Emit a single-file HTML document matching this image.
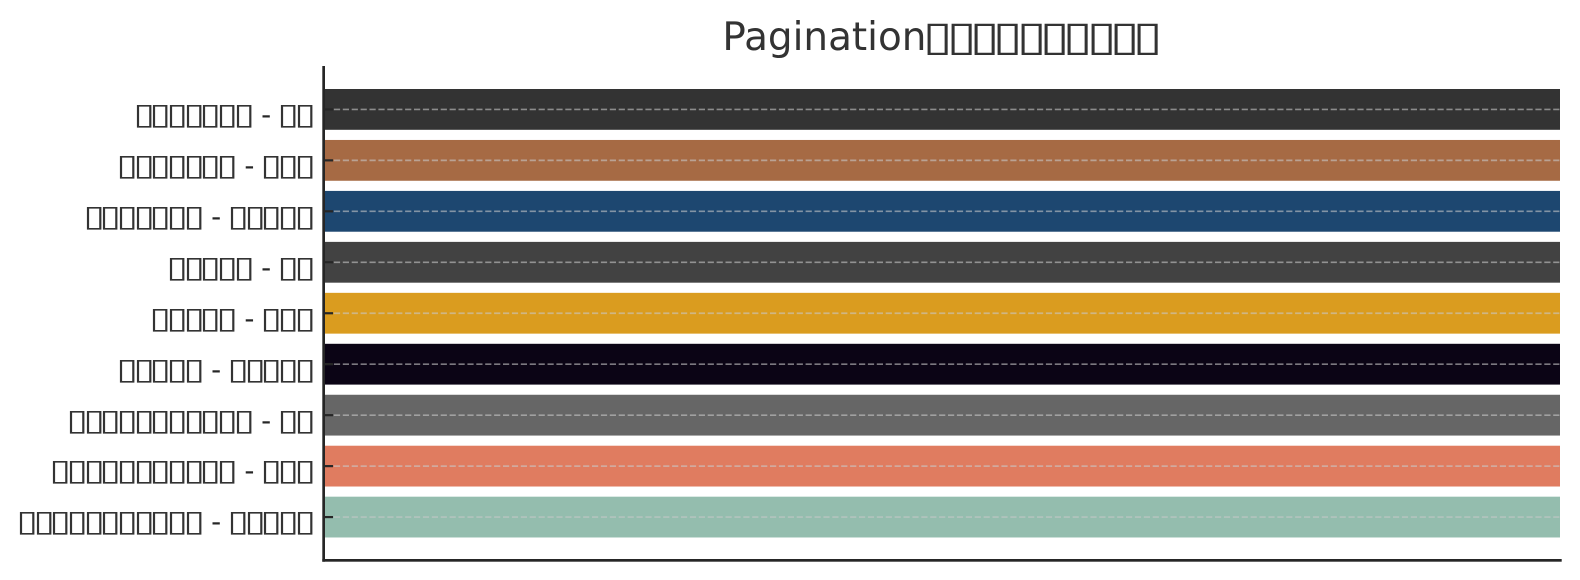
<!DOCTYPE html>
<html><head><meta charset="utf-8">
<style>
html,body{margin:0;padding:0;background:#fff;}
body{width:1580px;height:580px;position:relative;overflow:hidden;font-family:"DejaVu Sans","Liberation Sans","Noto Sans CJK SC",sans-serif;}
svg{position:absolute;left:0;top:0;}
.lab{position:absolute;right:1266.7px;font-size:27.8px;line-height:32px;color:#262626;white-space:pre;}
.b{display:inline-flex;justify-content:center;width:16.68px;font-size:29.5px;font-style:normal;transform:scaleX(1.33);color:#333;}
.title{position:absolute;left:722.4px;top:14px;font-size:38.9px;line-height:45px;color:#333;white-space:pre;}
.t{display:inline-flex;justify-content:center;width:23.34px;font-size:41px;font-style:normal;transform:scaleX(1.33);}
</style></head><body>
<svg width="1580" height="580" viewBox="0 0 1580 580">
<g>
<rect x="325" y="89" width="1235" height="40.8" fill="#333333"/>
<rect x="325" y="139.96" width="1235" height="40.8" fill="#A66A44"/>
<rect x="325" y="190.92" width="1235" height="40.8" fill="#1D4770"/>
<rect x="325" y="241.88" width="1235" height="40.8" fill="#424242"/>
<rect x="325" y="292.84" width="1235" height="40.8" fill="#DA9C1F"/>
<rect x="325" y="343.8" width="1235" height="40.8" fill="#0B0415"/>
<rect x="325" y="394.76" width="1235" height="40.8" fill="#666666"/>
<rect x="325" y="445.72" width="1235" height="40.8" fill="#E07C60"/>
<rect x="325" y="496.68" width="1235" height="40.8" fill="#94BDAE"/>
</g>
<g stroke="rgba(200,200,200,0.6)" stroke-width="1.67" stroke-dasharray="6.2 2.7">
<line x1="325" x2="1560" y1="109.4" y2="109.4"/>
<line x1="325" x2="1560" y1="160.36" y2="160.36"/>
<line x1="325" x2="1560" y1="211.32" y2="211.32"/>
<line x1="325" x2="1560" y1="262.28" y2="262.28"/>
<line x1="325" x2="1560" y1="313.24" y2="313.24"/>
<line x1="325" x2="1560" y1="364.2" y2="364.2"/>
<line x1="325" x2="1560" y1="415.16" y2="415.16"/>
<line x1="325" x2="1560" y1="466.12" y2="466.12"/>
<line x1="325" x2="1560" y1="517.08" y2="517.08"/>
</g>
<g stroke="#262626" stroke-width="2.2">
<line x1="325" x2="333" y1="109.4" y2="109.4"/>
<line x1="325" x2="333" y1="160.36" y2="160.36"/>
<line x1="325" x2="333" y1="211.32" y2="211.32"/>
<line x1="325" x2="333" y1="262.28" y2="262.28"/>
<line x1="325" x2="333" y1="313.24" y2="313.24"/>
<line x1="325" x2="333" y1="364.2" y2="364.2"/>
<line x1="325" x2="333" y1="415.16" y2="415.16"/>
<line x1="325" x2="333" y1="466.12" y2="466.12"/>
<line x1="325" x2="333" y1="517.08" y2="517.08"/>
</g>
<rect x="322.3" y="66" width="2.7" height="495.7" fill="#262626"/>
<rect x="322.3" y="559" width="1239.4" height="2.7" fill="#262626"/>
</svg>

<div class="title">Pagination<i class="t">▯</i><i class="t">▯</i><i class="t">▯</i><i class="t">▯</i><i class="t">▯</i><i class="t">▯</i><i class="t">▯</i><i class="t">▯</i><i class="t">▯</i><i class="t">▯</i></div>

<div class="lab" style="top:97.7px"><i class="b">▯</i><i class="b">▯</i><i class="b">▯</i><i class="b">▯</i><i class="b">▯</i><i class="b">▯</i><i class="b">▯</i> - <i class="b">▯</i><i class="b">▯</i></div>
<div class="lab" style="top:148.66px"><i class="b">▯</i><i class="b">▯</i><i class="b">▯</i><i class="b">▯</i><i class="b">▯</i><i class="b">▯</i><i class="b">▯</i> - <i class="b">▯</i><i class="b">▯</i><i class="b">▯</i></div>
<div class="lab" style="top:199.6px"><i class="b">▯</i><i class="b">▯</i><i class="b">▯</i><i class="b">▯</i><i class="b">▯</i><i class="b">▯</i><i class="b">▯</i> - <i class="b">▯</i><i class="b">▯</i><i class="b">▯</i><i class="b">▯</i><i class="b">▯</i></div>
<div class="lab" style="top:250.6px"><i class="b">▯</i><i class="b">▯</i><i class="b">▯</i><i class="b">▯</i><i class="b">▯</i> - <i class="b">▯</i><i class="b">▯</i></div>
<div class="lab" style="top:301.5px"><i class="b">▯</i><i class="b">▯</i><i class="b">▯</i><i class="b">▯</i><i class="b">▯</i> - <i class="b">▯</i><i class="b">▯</i><i class="b">▯</i></div>
<div class="lab" style="top:352.5px"><i class="b">▯</i><i class="b">▯</i><i class="b">▯</i><i class="b">▯</i><i class="b">▯</i> - <i class="b">▯</i><i class="b">▯</i><i class="b">▯</i><i class="b">▯</i><i class="b">▯</i></div>
<div class="lab" style="top:403.5px"><i class="b">▯</i><i class="b">▯</i><i class="b">▯</i><i class="b">▯</i><i class="b">▯</i><i class="b">▯</i><i class="b">▯</i><i class="b">▯</i><i class="b">▯</i><i class="b">▯</i><i class="b">▯</i> - <i class="b">▯</i><i class="b">▯</i></div>
<div class="lab" style="top:454.4px"><i class="b">▯</i><i class="b">▯</i><i class="b">▯</i><i class="b">▯</i><i class="b">▯</i><i class="b">▯</i><i class="b">▯</i><i class="b">▯</i><i class="b">▯</i><i class="b">▯</i><i class="b">▯</i> - <i class="b">▯</i><i class="b">▯</i><i class="b">▯</i></div>
<div class="lab" style="top:505.4px"><i class="b">▯</i><i class="b">▯</i><i class="b">▯</i><i class="b">▯</i><i class="b">▯</i><i class="b">▯</i><i class="b">▯</i><i class="b">▯</i><i class="b">▯</i><i class="b">▯</i><i class="b">▯</i> - <i class="b">▯</i><i class="b">▯</i><i class="b">▯</i><i class="b">▯</i><i class="b">▯</i></div>
</body></html>
